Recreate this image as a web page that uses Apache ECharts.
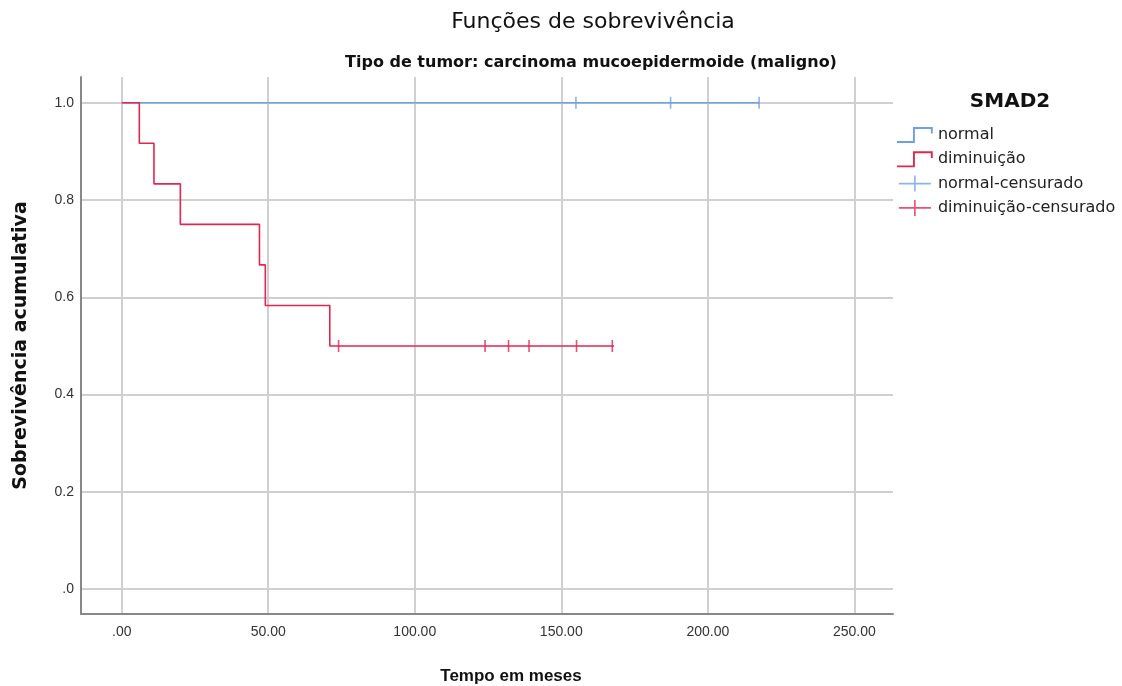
<!DOCTYPE html>
<html>
<head>
<meta charset="utf-8">
<script src="https://cdn.jsdelivr.net/npm/echarts@6/dist/echarts.min.js"></script>
<style>
  html, body { margin: 0; padding: 0; background: #fff; }
  #chart { width: 1122px; height: 686px; }
</style>
</head>
<body>
<div id="chart"></div>
<script>
// Kaplan-Meier steps: [time in months, cumulative survival]
const normalSteps = [[0, 1.0], [217.5, 1.0]];
const diminSteps = [
  [0, 1.0], [6, 1.0], [6, 11 / 12], [11, 11 / 12], [11, 10 / 12],
  [20, 10 / 12], [20, 0.75], [47, 0.75], [47, 8 / 12], [49, 8 / 12],
  [49, 7 / 12], [71, 7 / 12], [71, 0.5], [168, 0.5]
];
// censored observations
const normalCensored = [[155, 1.0], [187.3, 1.0], [217.5, 1.0]];
const diminCensored = [[74, 0.5], [124, 0.5], [132, 0.5], [139, 0.5], [155.2, 0.5], [167.4, 0.5]];

const xTicks = [0, 50, 100, 150, 200, 250];
const yTicks = [0, 0.2, 0.4, 0.6, 0.8, 1.0];

const BLUE = '#6f9fe4';
const RED = '#e1264f';
const GRID = '#d0d0d0';
const FONT = '"Liberation Sans", Arial, sans-serif';
const WIDE = '"DejaVu Sans", Verdana, sans-serif';

const stepIcon = 'path://M0,17L17,17L17,2L38,2L38,9L36,9L36,4L19,4L19,19L0,19Z';
const crossIcon = 'path://M0,9L19,9L19,0L21,0L21,9L40,9L40,11L21,11L21,20L19,20L19,11L0,11Z';

const fmtX = v => (v === 0 ? '.00' : v.toFixed(2));
const fmtY = v => (v === 0 ? '.0' : v.toFixed(1));

const chart = echarts.init(document.getElementById('chart'));
chart.setOption({
  animation: false,
  backgroundColor: '#fff',
  title: [
    { text: 'Funções de sobrevivência', left: 588, top: 6, textAlign: 'center',
      textStyle: { fontFamily: WIDE, fontSize: 22, fontWeight: 'normal', color: '#111' } },
    { text: 'Tipo de tumor: carcinoma mucoepidermoide (maligno)', left: 586, top: 50, textAlign: 'center',
      textStyle: { fontFamily: WIDE, fontSize: 16, fontWeight: 'bold', color: '#111' } },
    { text: 'SMAD2', left: 1005, top: 87, textAlign: 'center',
      textStyle: { fontFamily: WIDE, fontSize: 20, fontWeight: 'bold', color: '#111' } },
    // horizontal axis title
    { text: 'Tempo em meses', left: 506, top: 663, textAlign: 'center',
      textStyle: { fontFamily: FONT, fontSize: 17, fontWeight: 'bold', color: '#111' } }
  ],
  legend: {
    orient: 'vertical', left: 897, top: 127, padding: 0,
    itemWidth: 36, itemHeight: 16, itemGap: 8.3,
    textStyle: { fontFamily: WIDE, fontSize: 16, color: '#222' },
    data: [
      { name: 'normal', icon: stepIcon, itemStyle: { color: BLUE } },
      { name: 'diminuição', icon: stepIcon, itemStyle: { color: RED } },
      { name: 'normal-censurado', icon: crossIcon, itemStyle: { color: BLUE } },
      { name: 'diminuição-censurado', icon: crossIcon, itemStyle: { color: RED } }
    ]
  },
  grid: { left: 81, right: 229, top: 77, bottom: 72, containLabel: false, outerBoundsMode: 'none' },
  xAxis: {
    type: 'value', min: -13.9, max: 263.2,
    axisLine: { show: true, onZero: false, lineStyle: { color: '#888', width: 2 } },
    axisTick: { show: false, customValues: xTicks },
    axisLabel: { customValues: xTicks, formatter: fmtX, margin: 11,
      fontFamily: FONT, fontSize: 14, color: '#333' },
    splitLine: { show: true, lineStyle: { color: GRID, width: 2 } }
  },
  yAxis: {
    type: 'value', min: -0.051, max: 1.053,
    name: 'Sobrevivência acumulativa', nameLocation: 'middle', nameGap: 50,
    nameTextStyle: { fontFamily: WIDE, fontSize: 19, fontWeight: 'bold', color: '#111' },
    axisLine: { show: true, onZero: false, lineStyle: { color: '#888', width: 2 } },
    axisTick: { show: false, customValues: yTicks },
    axisLabel: { customValues: yTicks, formatter: fmtY, margin: 7,
      fontFamily: FONT, fontSize: 14, color: '#333' },
    splitLine: { show: true, lineStyle: { color: GRID, width: 2 } }
  },
  series: [
    { name: 'normal', type: 'line', data: normalSteps, showSymbol: false, symbol: 'none',
      lineStyle: { color: BLUE, width: 1.6 }, itemStyle: { color: BLUE }, z: 3 },
    { name: 'diminuição', type: 'line', data: diminSteps, showSymbol: false, symbol: 'none',
      lineStyle: { color: RED, width: 1.6 }, itemStyle: { color: RED }, z: 4 },
    { name: 'normal-censurado', type: 'scatter', data: normalCensored,
      symbol: 'rect', symbolSize: [1.6, 12], itemStyle: { color: BLUE }, z: 5 },
    { name: 'diminuição-censurado', type: 'scatter', data: diminCensored,
      symbol: 'rect', symbolSize: [1.6, 12], itemStyle: { color: RED }, z: 6 }
  ]
});
</script>
</body>
</html>
